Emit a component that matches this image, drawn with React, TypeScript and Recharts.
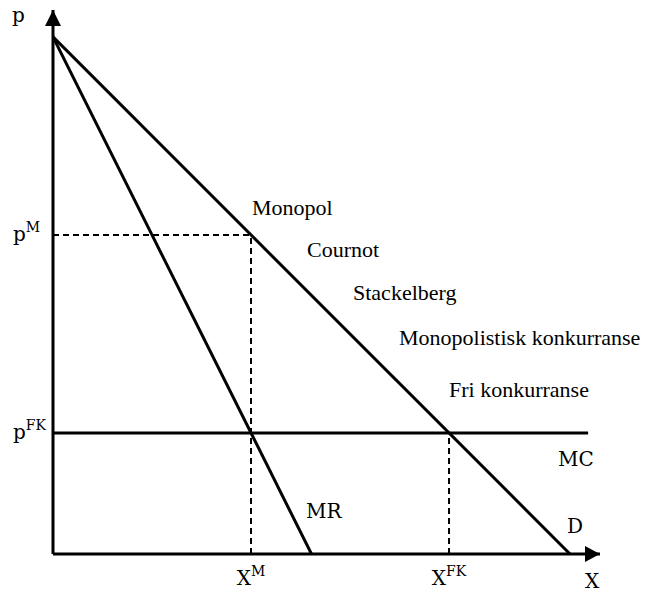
import React from 'react';
import {
  LineChart,
  Line,
  XAxis,
  YAxis,
  ReferenceLine,
  ReferenceDot,
  Customized
} from 'recharts';

// Linear demand / marginal revenue diagram (values in abstract units)
const demand = [
  { x: 0, p: 100 },
  { x: 100, p: 0 }
];
const marginalRevenue = [
  { x: 0, p: 100 },
  { x: 50, p: 0 }
];
const mcLevel = 23.4;
const marginalCost = [
  { x: 0, p: mcLevel },
  { x: 103.5, p: mcLevel }
];
const xMonopoly = 38.3;
const pMonopoly = 61.7;
const xCompetition = 76.6;
const xMax = 105.8;
const yMax = 105.2;

const xTicks = [xMonopoly, xCompetition];
const xTickLabels: Record<string, [string, string]> = {
  [xMonopoly]: ['X', 'M'],
  [xCompetition]: ['X', 'FK']
};
const yTicks = [mcLevel, pMonopoly];
const yTickLabels: Record<string, [string, string]> = {
  [pMonopoly]: ['p', 'M'],
  [mcLevel]: ['p', 'FK']
};

const marketForms = [
  'Monopol',
  'Cournot',
  'Stackelberg',
  'Monopolistisk konkurranse',
  'Fri konkurranse'
];

const mathFont = "'DejaVu Serif', serif";
const textFont = "'Liberation Serif', 'Times New Roman', serif";

// where the market form labels sit (pixels)
const formPos = [
  { x: 252, y: 215 },
  { x: 307, y: 257 },
  { x: 353, y: 300 },
  { x: 399, y: 345 },
  { x: 449, y: 397 }
];

const XTick = (props: any) => {
  const [base, sup] = xTickLabels[String(props.payload.value)] || ['', ''];
  return (
    <text x={props.x} y={585} textAnchor="middle" fontFamily={mathFont} fontSize={20} fill="#000">
      {base}
      <tspan fontSize={14} dy={-9}>{sup}</tspan>
    </text>
  );
};

const YTick = (props: any) => {
  const [base, sup] = yTickLabels[String(props.payload.value)] || ['', ''];
  return (
    <text x={13} y={props.y + 6} textAnchor="start" fontFamily={mathFont} fontSize={20} fill="#000">
      {base}
      <tspan fontSize={14} dy={-9}>{sup}</tspan>
    </text>
  );
};

const ArrowUp = (props: any) => (
  <polygon
    points={`${props.cx},${props.cy} ${props.cx - 8},${props.cy + 16} ${props.cx + 8},${props.cy + 16}`}
    fill="#000"
  />
);

const ArrowRight = (props: any) => (
  <polygon
    points={`${props.cx},${props.cy} ${props.cx - 15},${props.cy - 8} ${props.cx - 15},${props.cy + 8}`}
    fill="#000"
  />
);

const Labels = () => (
  <g fill="#000">
    <text x={12} y={22} fontFamily={mathFont} fontSize={20}>p</text>
    <text x={585} y={588} fontFamily={mathFont} fontSize={20}>X</text>
    <text x={567} y={533} fontFamily={mathFont} fontSize={20}>D</text>
    <text x={306} y={518} fontFamily={mathFont} fontSize={20}>MR</text>
    <text x={558} y={466} fontFamily={mathFont} fontSize={20}>MC</text>
    {marketForms.map((name, i) => (
      <text key={name} x={formPos[i].x} y={formPos[i].y} fontFamily={textFont} fontSize={22}>
        {name}
      </text>
    ))}
  </g>
);

export default function App() {
  const dash = { stroke: '#000', strokeWidth: 2, strokeDasharray: '6 4' };
  return (
    <div style={{ position: 'absolute', left: 0, top: 0, background: '#fff' }}>
      <LineChart width={647} height={592} margin={{ top: 10, right: 47, left: 0, bottom: 0 }}>
        <XAxis
          type="number"
          dataKey="x"
          domain={[0, xMax]}
          ticks={xTicks}
          tick={<XTick />}
          tickLine={false}
          tickSize={0}
          height={38}
          axisLine={{ stroke: '#000', strokeWidth: 3 }}
          allowDataOverflow
        />
        <YAxis
          type="number"
          dataKey="p"
          domain={[0, yMax]}
          ticks={yTicks}
          tick={<YTick />}
          tickLine={false}
          tickSize={0}
          width={53}
          axisLine={{ stroke: '#000', strokeWidth: 3 }}
          allowDataOverflow
        />
        <ReferenceLine segment={[{ x: 0, y: pMonopoly }, { x: xMonopoly, y: pMonopoly }]} {...dash} />
        <ReferenceLine segment={[{ x: xMonopoly, y: 0 }, { x: xMonopoly, y: pMonopoly }]} {...dash} />
        <ReferenceLine segment={[{ x: xCompetition, y: 0 }, { x: xCompetition, y: mcLevel }]} {...dash} />
        <Line data={demand} dataKey="p" type="linear" stroke="#000" strokeWidth={3} dot={false} isAnimationActive={false} />
        <Line data={marginalRevenue} dataKey="p" type="linear" stroke="#000" strokeWidth={3} dot={false} isAnimationActive={false} />
        <Line data={marginalCost} dataKey="p" type="linear" stroke="#000" strokeWidth={3} dot={false} isAnimationActive={false} />
        <ReferenceDot x={0} y={yMax} r={0} shape={<ArrowUp />} />
        <ReferenceDot x={xMax} y={0} r={0} shape={<ArrowRight />} />
        <Customized component={Labels} />
      </LineChart>
    </div>
  );
}
